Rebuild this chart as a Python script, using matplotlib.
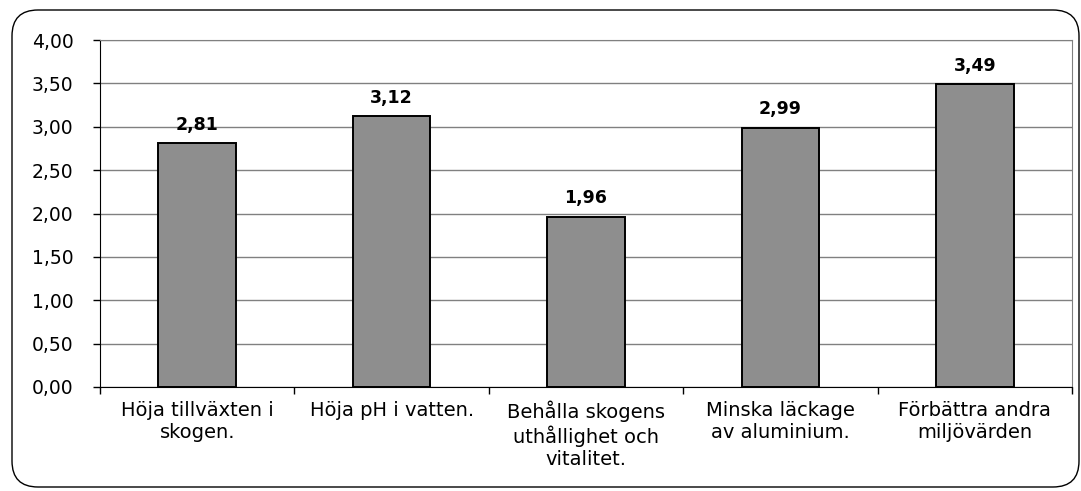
import matplotlib.pyplot as plt
import numpy as np
from matplotlib.patches import FancyBboxPatch
from matplotlib.transforms import IdentityTransform

# Data
categories = [
    "Höja tillväxten i\nskogen.",
    "Höja pH i vatten.",
    "Behålla skogens\nuthållighet och\nvitalitet.",
    "Minska läckage\nav aluminium.",
    "Förbättra andra\nmiljövärden",
]
values = [2.81, 3.12, 1.96, 2.99, 3.49]
yticks = [0.0, 0.5, 1.0, 1.5, 2.0, 2.5, 3.0, 3.5, 4.0]

plt.rcParams['font.family'] = ['DejaVu Sans']

W, H = 1081, 491
fig = plt.figure(figsize=(W / 100, H / 100), dpi=100)
ax = fig.add_axes([100 / W, 1 - 387 / H, (1072 - 100) / W, (387 - 40) / H])

# rounded outer frame (pixel coordinates)
frame = FancyBboxPatch((12, 4), 1067, 477,
                       boxstyle="round,pad=0,rounding_size=26",
                       transform=IdentityTransform(), fill=False,
                       edgecolor='black', linewidth=1.0, clip_on=False)
fig.patches.append(frame)

x = np.arange(len(categories))
ax.set_axisbelow(True)
ax.yaxis.grid(True, color='#808080', linewidth=1.0)
bars = ax.bar(x, values, width=0.40, color='#8e8e8e', edgecolor='black',
              linewidth=1.4, zorder=3)

for xi, v in zip(x, values):
    ax.annotate(f"{v:.2f}".replace('.', ','), (xi, v), xytext=(0, 7),
                textcoords='offset points', ha='center', va='bottom',
                fontsize=12.5, fontweight='bold')

ax.set_xlim(-0.5, len(categories) - 0.5)
ax.set_ylim(0, 4)
ax.set_yticks(yticks)
ax.set_yticklabels([f"{t:.2f}".replace('.', ',') for t in yticks], fontsize=13.5)
ax.tick_params(axis='y', direction='out', length=5, width=1, pad=14)

ax.set_xticks(np.arange(len(categories) + 1) - 0.5)
ax.set_xticklabels([])
ax.set_xticks(x, minor=True)
ax.set_xticklabels(categories, minor=True, fontsize=14, linespacing=1.18)
ax.tick_params(axis='x', which='major', direction='out', length=5, width=1)
ax.tick_params(axis='x', which='minor', length=0, pad=10)

for side in ['top', 'right']:
    ax.spines[side].set_color('#808080')
ax.spines['left'].set_color('black')
ax.spines['bottom'].set_color('black')

fig.savefig('out.png', dpi=100)
